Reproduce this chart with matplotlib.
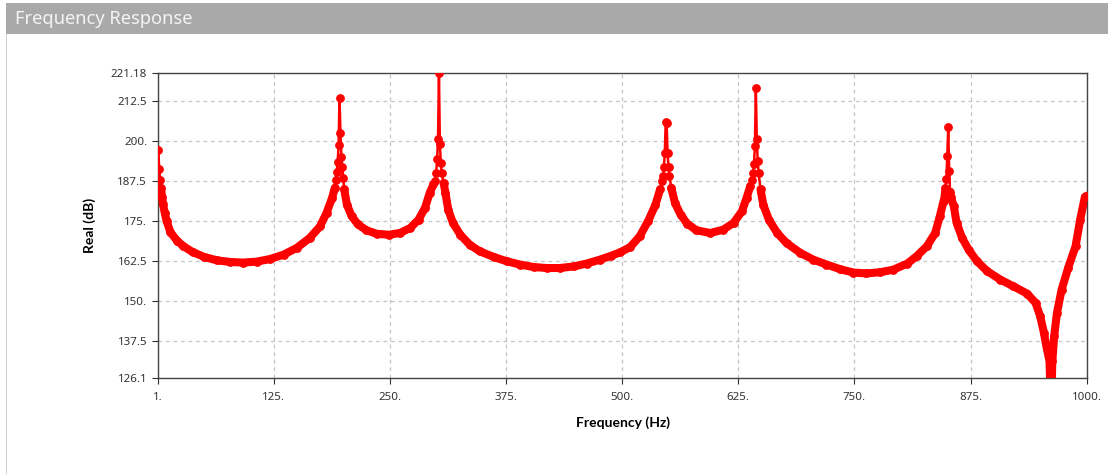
## Frequency response plot (real part in dB)

import matplotlib
matplotlib.use("Agg")
import matplotlib.pyplot as plt
from matplotlib.patches import Rectangle
import numpy as np

plt.rcParams['font.family'] = ['Noto Sans', 'DejaVu Sans']

# Frequencies (Hz) and values (dB)
freq = [1, 2, 3, 4, 5, 6, 8, 10, 14, 21, 28, 38, 50, 64, 78, 92, 107, 121, 136,
        150, 164, 175, 182, 188, 191, 192, 193, 194, 195, 196, 197, 198, 199,
        200, 201, 204, 209, 216, 225, 236, 249, 261, 272, 281, 288, 293, 297,
        299, 300, 301, 302, 303, 304, 305, 306, 308, 310, 313, 318, 326, 336,
        347, 362, 376, 390, 405, 419, 433, 448, 462, 476, 488, 498, 509, 519,
        528, 536, 541, 543, 544, 545, 546, 547, 548, 549, 550, 551, 553, 557,
        563, 570, 580, 595, 609, 620, 629, 634, 638, 640, 641, 642, 643, 644,
        645, 646, 647, 649, 652, 658, 667, 677, 692, 706, 720, 735, 749, 763,
        778, 792, 807, 817, 828, 837, 842, 846, 847, 848, 849, 850, 851, 852,
        853, 854, 857, 860, 866, 873, 882, 893, 907, 921, 936, 945, 950, 954,
        957, 960, 961, 962, 963, 965, 968, 973, 980, 988, 993, 998, 1000]
real_db = [197.4, 191.35, 187.8, 185.4, 182.5, 180.5, 177.5, 175.0, 171.6, 169.0,
           167.2, 165.4, 163.9, 162.8, 162.3, 162.1, 162.4, 163.2, 164.6,
           166.7, 169.8, 173.4, 177.6, 182.3, 185.5, 188.0, 190.5, 193.6, 198.8,
           213.6, 202.7, 195.2, 192.0, 188.5, 185.0, 180.2, 176.6, 174.0, 172.2,
           171.1, 170.8, 171.35, 172.9, 175.5, 179.2, 183.85, 186.5,
           187.5, 190.0, 194.4, 200.7, 221.18, 199.0, 193.1, 190.0, 187.0,
           183.85, 178.6, 174.5, 170.8, 167.7, 165.6, 163.85, 162.5, 161.5,
           160.7, 160.4, 160.4, 160.9, 161.8, 163.0, 164.2, 165.3, 167.0, 170.3,
           175.0, 180.2, 185.0, 187.5, 189.0, 191.9, 196.25, 206.1, 205.6,
           196.25, 191.9, 189.0, 185.5, 180.7, 177.1, 174.3, 172.2, 171.35,
           172.4, 174.5, 178.1, 182.3, 186.0, 188.0, 190.0, 193.0, 198.5,
           216.75, 200.7, 193.9, 190.0, 185.0, 180.2, 175.5, 171.35, 168.2,
           165.1, 163.0, 161.5, 160.0, 159.0, 158.7, 159.1, 159.9, 161.8, 164.1,
           167.2, 171.35, 176.6, 181.25, 182.5, 185.3, 188.1, 195.5, 204.4,
           190.8, 184.25, 182.5, 179.7, 174.5, 169.8, 166.1, 162.5, 159.4, 156.8,
           154.7, 152.4, 149.5, 145.3, 140.1, 135.4, 131.25, 122.0, 119.0,
           131.25, 139.1, 146.4, 153.6, 160.4, 167.2, 175.5, 182.6, 183.0]

xticks = [1, 125, 250, 375, 500, 625, 750, 875, 1000]
xticklabels = ["1.", "125.", "250.", "375.", "500.", "625.", "750.", "875.", "1000."]
yticks = [126.1, 137.5, 150, 162.5, 175, 187.5, 200, 212.5, 221.18]
yticklabels = ["126.1", "137.5", "150.", "162.5", "175.", "187.5", "200.", "212.5", "221.18"]

fig = plt.figure(figsize=(11.08, 4.74), dpi=100)

# grey panel header
fig.patches.append(Rectangle((6 / 1108, 1 - 34 / 474), 1102 / 1108, 31 / 474,
                             transform=fig.transFigure, facecolor="#a9a9a9",
                             edgecolor="none", zorder=0))
fig.patches.append(Rectangle((6 / 1108, 0), 0.0012, 1 - 34 / 474,
                             transform=fig.transFigure, facecolor="#d0d0d0",
                             edgecolor="none", zorder=0))
fig.text(15 / 1108, 1 - 19 / 474, "Frequency Response", color="#f4f4f4",
         fontsize=13.2, va="center", ha="left")

ax = fig.add_axes([158.3 / 1108, 1 - 377.8 / 474, (1086.7 - 158.3) / 1108,
                   (377.8 - 73.5) / 474])

f = np.array(freq)
v = np.array(real_db)
# thick band for the smooth part, thin line with markers for everything
band = np.ma.masked_where(v > 187, v)
ax.plot(f, band, color="#ff0000", lw=5.8, solid_capstyle="round", zorder=3)
ax.plot(f, v, color="#ff0000", lw=1.8, marker="o", ms=5.3, zorder=4)

ax.set_xlim(1, 1000)
ax.set_ylim(126.1, 221.18)
ax.set_xticks(xticks)
ax.set_xticklabels(xticklabels)
ax.set_yticks(yticks)
ax.set_yticklabels(yticklabels)
ax.tick_params(labelsize=8.3, colors="#333333", length=4, width=0.8, pad=4)
ax.tick_params(axis="x", pad=6)
ax.grid(True, color="#c4c4c4", linestyle=(0, (3, 3)), linewidth=0.9)
ax.set_axisbelow(True)
for s in ax.spines.values():
    s.set_color("#444444")
    s.set_linewidth(1.0)

ax.set_xlabel("Frequency (Hz)", fontsize=10, fontweight="bold", labelpad=10,
              family=["Lato", "DejaVu Sans"])
ax.set_ylabel("Real (dB)", fontsize=10, fontweight="bold", labelpad=11,
              family=["Lato", "DejaVu Sans"])

fig.savefig("out.png", dpi=100)
